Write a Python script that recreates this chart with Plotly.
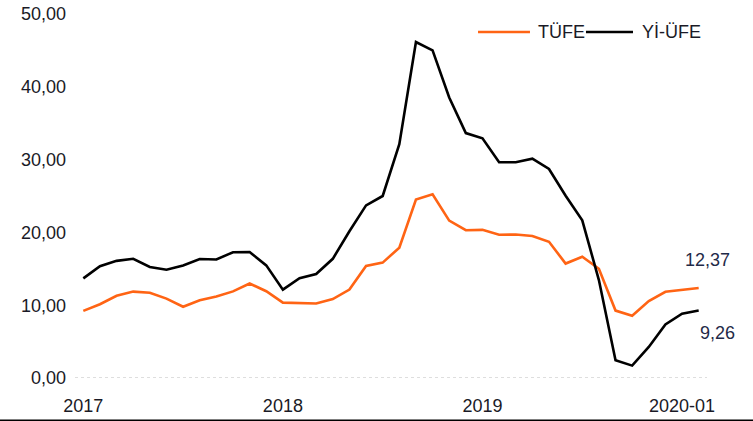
import plotly.graph_objects as go

months = list(range(38))  # 2017-01 .. 2020-02
tick_vals = [0, 12, 24, 36]
tick_text = ["2017", "2018", "2019", "2020-01"]

tufe = [9.22, 10.13, 11.29, 11.87, 11.72, 10.90, 9.79, 10.68, 11.20, 11.90, 12.98, 11.92,
        10.35, 10.26, 10.23, 10.85, 12.15, 15.39, 15.85, 17.90, 24.52, 25.24, 21.62, 20.30,
        20.35, 19.67, 19.71, 19.50, 18.71, 15.72, 16.65, 15.01, 9.26, 8.55, 10.56, 11.84,
        12.15, 12.37]
yiufe = [13.69, 15.36, 16.09, 16.37, 15.26, 14.87, 15.45, 16.34, 16.28, 17.28, 17.30, 15.47,
         12.14, 13.71, 14.28, 16.37, 20.16, 23.71, 25.00, 32.13, 46.15, 45.01, 38.54, 33.64,
         32.93, 29.64, 29.64, 30.12, 28.71, 25.04, 21.66, 13.45, 2.45, 1.70, 4.26, 7.36,
         8.84, 9.26]
y_ticks = [0, 10, 20, 30, 40, 50]
y_tick_text = ["0,00", "10,00", "20,00", "30,00", "40,00", "50,00"]

names = ["TÜFE", "Yİ-ÜFE"]
colors = ["#FF6414", "#000000"]
font = "Liberation Sans"
text_color = "#1A1A26"

fig = go.Figure()
fig.add_trace(go.Scatter(x=months, y=tufe, mode="lines", name=names[0],
                         line=dict(color=colors[0], width=2.6)))
fig.add_trace(go.Scatter(x=months, y=yiufe, mode="lines", name=names[1],
                         line=dict(color=colors[1], width=2.6)))

# end-value labels
fig.add_annotation(x=months[-1], y=tufe[-1], text=f"{tufe[-1]:.2f}".replace(".", ","),
                   showarrow=False, xshift=9, yshift=28,
                   font=dict(family=font, size=18, color="#1F2A48"))
fig.add_annotation(x=months[-1], y=yiufe[-1], text=f"{yiufe[-1]:.2f}".replace(".", ","),
                   showarrow=False, xshift=19, yshift=-22,
                   font=dict(family=font, size=18, color="#1F2A48"))

# dotted baseline
fig.add_shape(type="line", xref="paper", yref="y", x0=0, x1=1, y0=0, y1=0,
              line=dict(color="#BDBDBD", width=1, dash="dot"), layer="below")
# frame line at the bottom of the image
fig.add_shape(type="line", xref="paper", yref="paper", x0=-0.2, x1=1.2,
              y0=-0.1168, y1=-0.1168, line=dict(color="black", width=2))

# manual legend (long line samples)
leg_y = 0.9505
fig.add_shape(type="line", xref="paper", yref="paper", x0=0.6377, x1=0.7199,
              y0=leg_y, y1=leg_y, line=dict(color=colors[0], width=2.6))
fig.add_annotation(xref="paper", yref="paper", x=0.7290, y=leg_y, text=names[0],
                   xanchor="left", yanchor="middle", showarrow=False,
                   font=dict(family=font, size=18, color=text_color))
fig.add_shape(type="line", xref="paper", yref="paper", x0=0.8085, x1=0.8829,
              y0=leg_y, y1=leg_y, line=dict(color=colors[1], width=2.6))
fig.add_annotation(xref="paper", yref="paper", x=0.894, y=leg_y, text=names[1],
                   xanchor="left", yanchor="middle", showarrow=False,
                   font=dict(family=font, size=18, color=text_color))

fig.update_layout(
    width=753, height=421,
    margin=dict(l=75, r=46, t=14, b=43),
    paper_bgcolor="white", plot_bgcolor="white",
    font=dict(family=font, size=18, color=text_color),
    showlegend=False,
    xaxis=dict(range=[-0.5, 37.5], tickvals=tick_vals, ticktext=tick_text,
               showgrid=False, zeroline=False, showline=False, ticks="",
               automargin=False, ticklabelstandoff=15,
               tickfont=dict(family=font, size=18, color=text_color)),
    yaxis=dict(range=[0, 50], tickvals=y_ticks, ticktext=y_tick_text,
               showgrid=False, zeroline=False, showline=False, ticks="",
               automargin=False, ticklabelstandoff=8,
               tickfont=dict(family=font, size=18, color=text_color)),
)

fig.write_html("out.html", config={"displayModeBar": False},
               post_script="document.body.style.margin='0';")
